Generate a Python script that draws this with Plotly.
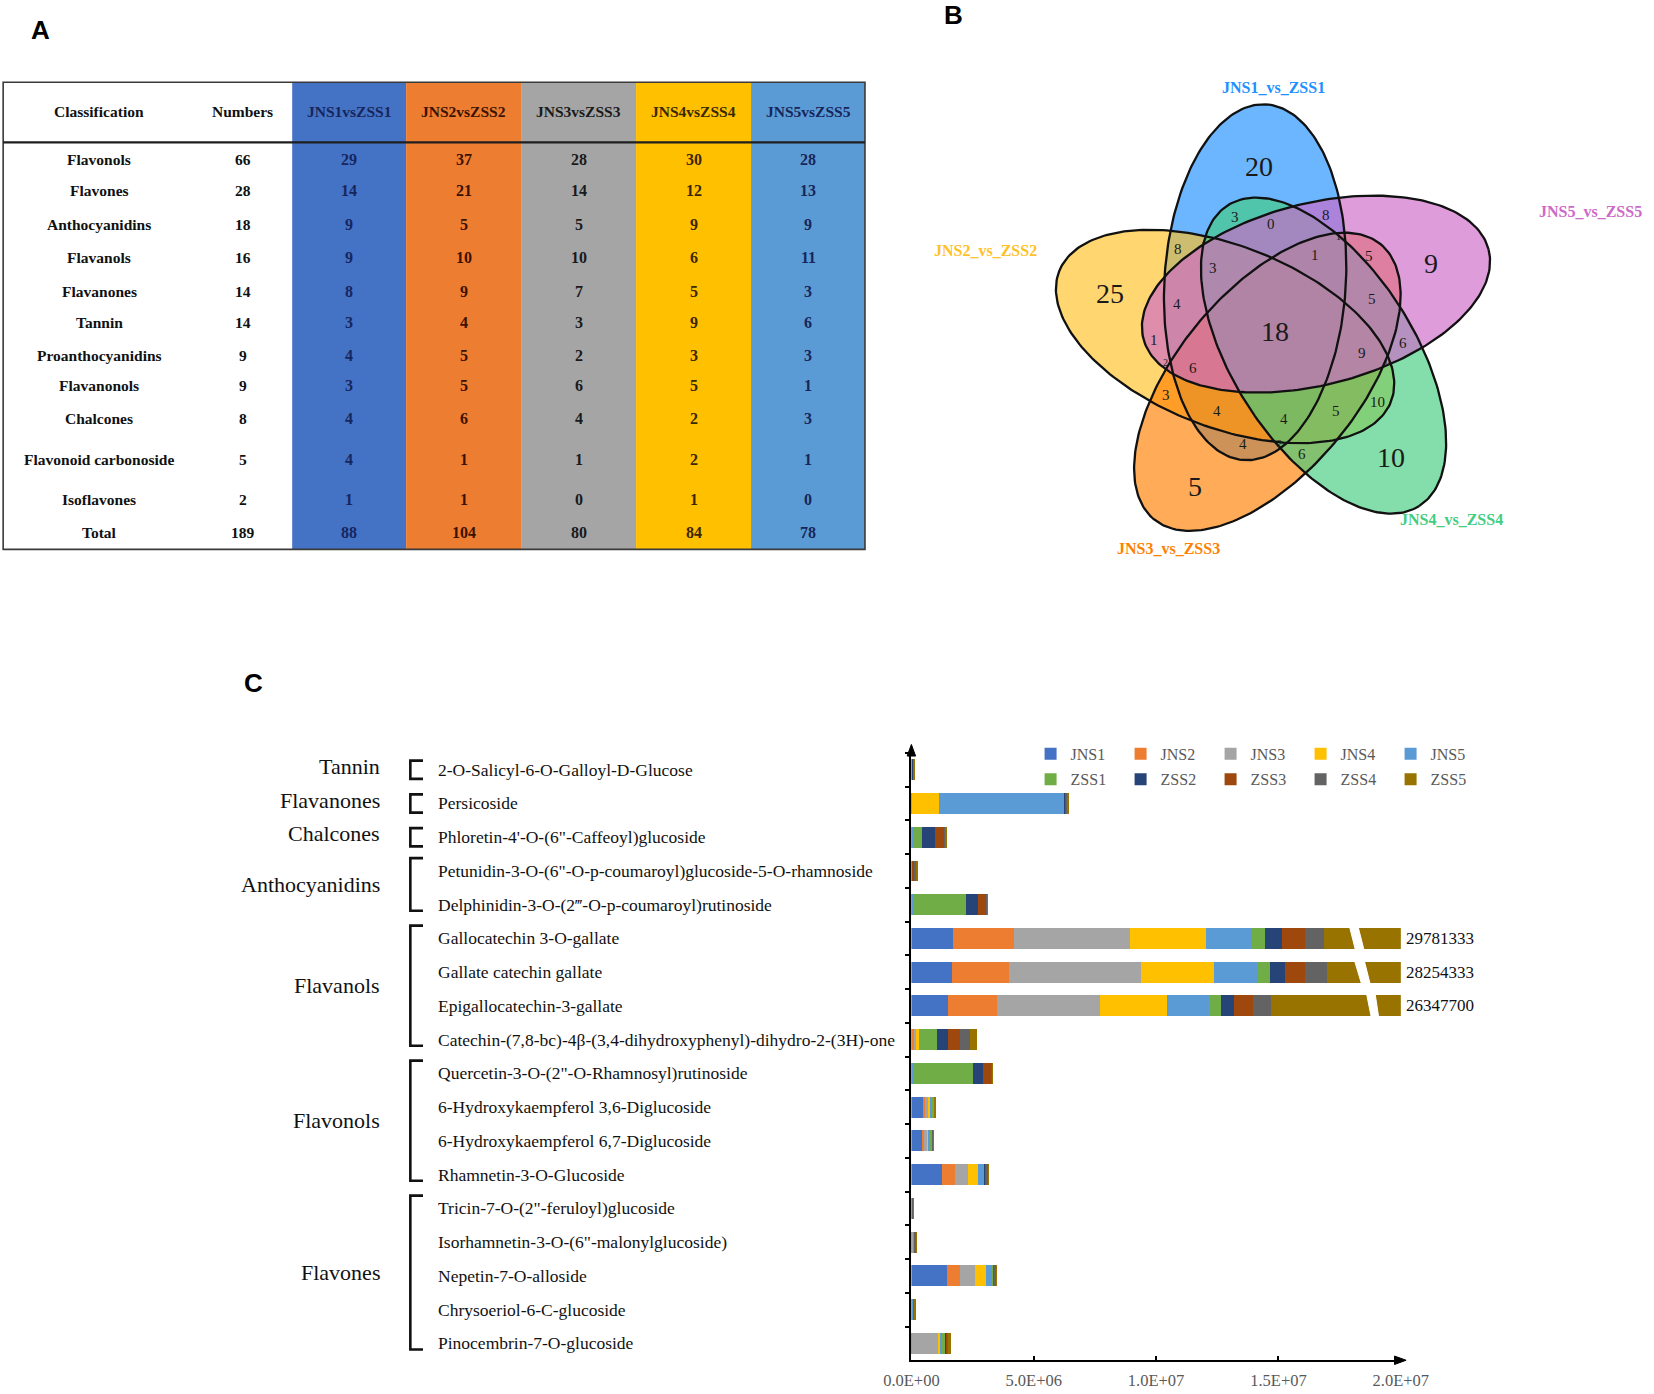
import numpy as np
import plotly.graph_objects as go

W, H = 1654, 1394
DW, DH = 1568.0, 1322.0  # design grid used for layout measurements


def px(x):
    return x / DW


def py(y):
    return 1 - y / DH


SERIF = "Liberation Serif"
SANS = "Liberation Sans"

# ---------------- Panel A : table data ----------------
table_classes = ["Flavonols", "Flavones", "Anthocyanidins", "Flavanols", "Flavanones", "Tannin",
                 "Proanthocyanidins", "Flavanonols", "Chalcones", "Flavonoid carbonoside",
                 "Isoflavones", "Total"]
table_numbers = [66, 28, 18, 16, 14, 14, 9, 9, 8, 5, 2, 189]
table_groups = ["JNS1vsZSS1", "JNS2vsZSS2", "JNS3vsZSS3", "JNS4vsZSS4", "JNS5vsZSS5"]
jns1_vs_zss1 = [29, 14, 9, 9, 8, 3, 4, 3, 4, 4, 1, 88]
jns2_vs_zss2 = [37, 21, 5, 10, 9, 4, 5, 5, 6, 1, 1, 104]
jns3_vs_zss3 = [28, 14, 5, 10, 7, 3, 2, 6, 4, 1, 0, 80]
jns4_vs_zss4 = [30, 12, 9, 6, 5, 9, 3, 5, 2, 2, 1, 84]
jns5_vs_zss5 = [28, 13, 9, 11, 3, 6, 3, 1, 3, 1, 0, 78]

# ---------------- Panel B : Venn data ----------------
venn_sets = ["JNS1_vs_ZSS1", "JNS2_vs_ZSS2", "JNS3_vs_ZSS3", "JNS4_vs_ZSS4", "JNS5_vs_ZSS5"]
venn_counts = [20, 25, 5, 10, 9, 18,
               3, 0, 8, 8, 3, 1, 5, 4, 5, 1, 6, 9, 6, 3, 10, 4, 4, 5, 4, 6,
               2, 1, 2, 0, 2]

# ---------------- Panel C : stacked bar data (x 10^6) ----------------
compounds = [
    "2-O-Salicyl-6-O-Galloyl-D-Glucose",
    "Persicoside",
    "Phloretin-4'-O-(6\"-Caffeoyl)glucoside",
    "Petunidin-3-O-(6\"-O-p-coumaroyl)glucoside-5-O-rhamnoside",
    "Delphinidin-3-O-(2\u2034-O-p-coumaroyl)rutinoside",
    "Gallocatechin 3-O-gallate",
    "Gallate catechin gallate",
    "Epigallocatechin-3-gallate",
    "Catechin-(7,8-bc)-4\u03b2-(3,4-dihydroxyphenyl)-dihydro-2-(3H)-one",
    "Quercetin-3-O-(2\"-O-Rhamnosyl)rutinoside",
    "6-Hydroxykaempferol 3,6-Diglucoside",
    "6-Hydroxykaempferol 6,7-Diglucoside",
    "Rhamnetin-3-O-Glucoside",
    "Tricin-7-O-(2\"-feruloyl)glucoside",
    "Isorhamnetin-3-O-(6\"-malonylglucoside)",
    "Nepetin-7-O-alloside",
    "Chrysoeriol-6-C-glucoside",
    "Pinocembrin-7-O-glucoside",
]
compound_class = ["Tannin", "Flavanones", "Chalcones", "Anthocyanidins", "Anthocyanidins",
                  "Flavanols", "Flavanols", "Flavanols", "Flavanols",
                  "Flavonols", "Flavonols", "Flavonols", "Flavonols",
                  "Flavones", "Flavones", "Flavones", "Flavones", "Flavones"]
series_names = ["JNS1", "JNS2", "JNS3", "JNS4", "JNS5", "ZSS1", "ZSS2", "ZSS3", "ZSS4", "ZSS5"]
JNS1 = [0.02, 0.01, 0.01, 0.01, 0.01, 1.71, 1.64, 1.50, 0.03, 0.01, 0.47, 0.43, 1.26, 0.01, 0.01, 1.46, 0.01, 0.01]
JNS2 = [0.01, 0.01, 0.01, 0.01, 0.01, 2.49, 2.35, 1.99, 0.10, 0.01, 0.10, 0.10, 0.53, 0.01, 0.01, 0.52, 0.01, 0.01]
JNS3 = [0.02, 0.02, 0.01, 0.01, 0.01, 4.73, 5.38, 4.20, 0.05, 0.01, 0.10, 0.10, 0.53, 0.01, 0.08, 0.60, 0.05, 1.12]
JNS4 = [0.01, 1.07, 0.01, 0.01, 0.01, 3.11, 2.98, 2.74, 0.15, 0.01, 0.12, 0.10, 0.40, 0.01, 0.01, 0.46, 0.01, 0.08]
JNS5 = [0.01, 5.16, 0.01, 0.01, 0.01, 1.88, 1.82, 1.75, 0.02, 0.01, 0.05, 0.04, 0.21, 0.01, 0.01, 0.26, 0.01, 0.04]
ZSS1 = [0.01, 0.02, 0.40, 0.01, 2.18, 0.54, 0.50, 0.47, 0.71, 2.46, 0.10, 0.09, 0.09, 0.01, 0.01, 0.07, 0.01, 0.16]
ZSS2 = [0.01, 0.01, 0.50, 0.01, 0.50, 0.67, 0.60, 0.53, 0.43, 0.41, 0.01, 0.01, 0.02, 0.01, 0.01, 0.01, 0.01, 0.01]
ZSS3 = [0.02, 0.01, 0.40, 0.08, 0.34, 0.94, 0.83, 0.78, 0.50, 0.37, 0.01, 0.01, 0.01, 0.01, 0.01, 0.01, 0.01, 0.01]
ZSS4 = [0.01, 0.10, 0.05, 0.06, 0.04, 0.78, 0.88, 0.74, 0.40, 0.03, 0.02, 0.02, 0.10, 0.01, 0.06, 0.10, 0.01, 0.10]
ZSS5 = [0.01, 0.02, 0.04, 0.08, 0.03, 12.931333, 11.274333, 11.6477, 0.31, 0.02, 0.01, 0.01, 0.01, 0.01, 0.01, 0.01, 0.05, 0.06]
UNIT = 1e6
broken_rows = ["Gallocatechin 3-O-gallate", "Gallate catechin gallate", "Epigallocatechin-3-gallate"]
broken_totals = [29781333, 28254333, 26347700]
x_tickvals = [0, 5e6, 1e7, 1.5e7, 2e7]
x_ticktext = ["0.0E+00", "5.0E+06", "1.0E+07", "1.5E+07", "2.0E+07"]

# ---------------- styles ----------------
bar_colors = ["#4472C4", "#ED7D31", "#A5A5A5", "#FFC000", "#5B9BD5",
              "#70AD47", "#264478", "#9E480E", "#636363", "#997300"]
table_fill = ["#4472C4", "#ED7D31", "#A5A5A5", "#FFC000", "#5B9BD5"]
table_text = ["#16265C", "#3B1300", "#1A1A1A", "#3A2800", "#16265C"]
venn_rgb = {"JNS1_vs_ZSS1": (30, 144, 255), "JNS2_vs_ZSS2": (255, 193, 37),
            "JNS3_vs_ZSS3": (255, 127, 0), "JNS4_vs_ZSS4": (67, 205, 128),
            "JNS5_vs_ZSS5": (205, 105, 201)}

fig = go.Figure()
shapes = []
ann = []

# =============== Panel A : table ===============
col_x = [(277, 385), (385, 494), (494, 603), (603, 712), (712, 820)]
T_TOP, T_HEAD, T_BOT, T_L, T_R = 78, 135, 521, 3, 820
row_y = [151, 181, 213, 244, 276, 306, 337, 366, 397, 436, 474, 505]
HEAD_Y = 106
for (x0, x1), c in zip(col_x, table_fill):
    shapes.append(dict(type="rect", xref="x2", yref="y2", x0=x0, x1=x1, y0=T_TOP, y1=T_BOT,
                       fillcolor=c, line=dict(width=0), layer="below"))
shapes.append(dict(type="rect", xref="x2", yref="y2", x0=T_L, x1=T_R, y0=T_TOP, y1=T_BOT,
                   line=dict(color="#3a3a3a", width=1.6)))
shapes.append(dict(type="line", xref="x2", yref="y2", x0=T_L, x1=T_R, y0=T_HEAD, y1=T_HEAD,
                   line=dict(color="#1e1e1e", width=2.4)))

tfont = dict(family=SERIF, size=15.5, color="#111111")
ann.append(dict(x=94, y=HEAD_Y, text="<b>Classification</b>", font=tfont))
ann.append(dict(x=230, y=HEAD_Y, text="<b>Numbers</b>", font=tfont))
for i, g in enumerate(table_groups):
    cx = (col_x[i][0] + col_x[i][1]) / 2
    ann.append(dict(x=cx, y=HEAD_Y, text=f"<b>{g}</b>",
                    font=dict(family=SERIF, size=15.5, color=table_text[i])))
cols = [jns1_vs_zss1, jns2_vs_zss2, jns3_vs_zss3, jns4_vs_zss4, jns5_vs_zss5]
for r, (cls, num) in enumerate(zip(table_classes, table_numbers)):
    ann.append(dict(x=94, y=row_y[r], text=f"<b>{cls}</b>", font=tfont))
    ann.append(dict(x=230, y=row_y[r], text=f"<b>{num}</b>", font=tfont))
    for i, col in enumerate(cols):
        cx = (col_x[i][0] + col_x[i][1]) / 2
        ann.append(dict(x=cx, y=row_y[r], text=f"<b>{col[r]}</b>",
                        font=dict(family=SERIF, size=16, color=table_text[i])))

# =============== Panel B : Venn ===============
VC = (1211.0, 313.0)
VD, VA, VB = 50.0, 169.0, 86.0
venn_k = {"JNS1_vs_ZSS1": 0, "JNS5_vs_ZSS5": 1, "JNS4_vs_ZSS4": 2, "JNS3_vs_ZSS3": 3, "JNS2_vs_ZSS2": 4}
t = np.linspace(0, 2 * np.pi, 241)


def ellipse_xy(k):
    th = np.radians(115 - 72 * k)
    ph = np.radians(86.5 - 72 * k)
    cx = VC[0] + VD * np.cos(th)
    cy = VC[1] - VD * np.sin(th)
    ux, uy = VA * np.cos(t), VB * np.sin(t)
    X = ux * np.cos(ph) - uy * np.sin(ph)
    Y = ux * np.sin(ph) + uy * np.cos(ph)
    return cx + X, cy - Y


for s in venn_sets:
    ex, ey = ellipse_xy(venn_k[s])
    r, g, b = venn_rgb[s]
    fig.add_trace(go.Scatter(x=ex, y=ey, xaxis="x2", yaxis="y2", mode="lines", fill="toself",
                             fillcolor=f"rgba({r},{g},{b},0.66)", line=dict(width=0),
                             hoverinfo="skip", showlegend=False))
for s in venn_sets:
    ex, ey = ellipse_xy(venn_k[s])
    fig.add_trace(go.Scatter(x=ex, y=ey, xaxis="x2", yaxis="y2", mode="lines",
                             line=dict(color="#111111", width=2.3),
                             hoverinfo="skip", showlegend=False))

venn_count_xy = [(1194, 158), (1052, 278), (1133, 461), (1319, 434), (1357, 250), (1209, 314),
                 (1171, 206), (1205, 212), (1257, 204), (1117, 236), (1150, 254), (1247, 242),
                 (1298, 243), (1116, 288), (1301, 284), (1094, 322), (1330, 325), (1291, 335),
                 (1131, 349), (1105, 375), (1306, 381), (1154, 390), (1217, 397), (1267, 390),
                 (1178, 421), (1234, 431),
                 (1142, 227), (1269, 224), (1105, 344), (1315, 343), (1213, 421)]
venn_count_size = [28] * 6 + [15] * 20 + [10] * 5
for v, (x, y), fs in zip(venn_counts, venn_count_xy, venn_count_size):
    ann.append(dict(x=x, y=y, text=str(v), font=dict(family=SERIF, size=fs, color="#1a1a1a")))

venn_label_xy = {"JNS1_vs_ZSS1": (1207, 83), "JNS2_vs_ZSS2": (934, 238), "JNS3_vs_ZSS3": (1108, 520),
                 "JNS4_vs_ZSS4": (1376, 493), "JNS5_vs_ZSS5": (1508, 201)}
for s in venn_sets:
    r, g, b = venn_rgb[s]
    x, y = venn_label_xy[s]
    ann.append(dict(x=x, y=y, text=f"<b>{s}</b>", font=dict(family=SERIF, size=16, color=f"rgb({r},{g},{b})")))

# panel letters
for letter, (x, y) in zip(["A", "B", "C"], [(38, 28), (904, 14), (240, 648)]):
    ann.append(dict(x=x, y=y, text=f"<b>{letter}</b>", font=dict(family=SANS, size=26, color="#000000")))

for a in ann:
    a.update(xref="x2", yref="y2", showarrow=False, xanchor=a.get("xanchor", "center"),
             yanchor="middle")

# =============== Panel C : stacked bars ===============
series = [JNS1, JNS2, JNS3, JNS4, JNS5, ZSS1, ZSS2, ZSS3, ZSS4, ZSS5]
for i, (name, vals) in enumerate(zip(series_names, series)):
    fig.add_trace(go.Bar(
        y=compounds, x=[v * UNIT for v in vals], name=name, orientation="h",
        marker=dict(color=bar_colors[i], line=dict(width=0)),
        legend="legend" if name.startswith("JNS") else "legend2",
        xaxis="x", yaxis="y", hovertemplate=name + ": %{x:.3s}<extra></extra>"))

# compound labels
for c in compounds:
    ann.append(dict(xref="paper", yref="y", x=px(413), y=c, text=c, showarrow=False,
                    xanchor="left", yanchor="middle", font=dict(family=SERIF, size=17.5, color="#111111")))

# class labels + brackets
groups = []
for i, cl in enumerate(compound_class):
    if groups and groups[-1][0] == cl:
        groups[-1][1].append(i)
    else:
        groups.append((cl, [i]))
for cl, idx in groups:
    mid = (idx[0] + idx[-1]) / 2 - 0.1
    ann.append(dict(xref="paper", yref="y", x=px(362), y=mid, text=cl, showarrow=False,
                    xanchor="right", yanchor="middle", font=dict(family=SERIF, size=22, color="#111111")))
    if len(idx) == 1:
        y0, y1 = idx[0] - 0.27, idx[0] + 0.27
    else:
        y0, y1 = idx[0] - 0.38, idx[-1] + 0.18
    xa, xb = px(389), px(401)
    shapes.append(dict(type="path", xref="paper", yref="y",
                       path=f"M {xb},{y0} L {xa},{y0} L {xa},{y1} L {xb},{y1}",
                       line=dict(color="#111111", width=2.6)))

# axis break marks (white slanted gaps) and totals
break_geom = [(17.9, 18.25, 18.15, 18.5), (18.1, 18.5, 18.4, 18.75), (18.6, 18.95, 18.8, 19.1)]
for name, tot, (tl, tr, bl, br) in zip(broken_rows, broken_totals, break_geom):
    k = compounds.index(name)
    ya, yb = k - 0.36, k + 0.36
    shapes.append(dict(type="path", xref="x", yref="y", layer="above",
                       path=f"M {tl*UNIT},{ya} L {tr*UNIT},{ya} L {br*UNIT},{yb} L {bl*UNIT},{yb} Z",
                       fillcolor="white", line=dict(color="white", width=1)))
    ann.append(dict(xref="x", yref="y", x=2e7, y=name, text=str(tot), showarrow=False,
                    xanchor="left", yanchor="middle", xshift=3,
                    font=dict(family=SERIF, size=17, color="#111111")))

# axis arrowheads
shapes.append(dict(type="path", xref="x2", yref="y2", path="M 864,706 L 860,717 L 868,717 Z",
                   fillcolor="#000", line=dict(color="#000", width=1)))
shapes.append(dict(type="path", xref="x2", yref="y2", path="M 1333,1290 L 1322,1286 L 1322,1294 Z",
                   fillcolor="#000", line=dict(color="#000", width=1)))

n = len(compounds)
legend_common = dict(orientation="h", xanchor="left", yanchor="middle", entrywidth=45,
                     entrywidthmode="pixels", bgcolor="rgba(0,0,0,0)", itemwidth=30,
                     traceorder="normal",
                     font=dict(family=SERIF, size=16, color="#595959"), tracegroupgap=0)
fig.update_layout(
    width=W, height=H, margin=dict(l=0, r=0, t=0, b=0, autoexpand=False),
    paper_bgcolor="white", plot_bgcolor="rgba(0,0,0,0)",
    barmode="stack", bargap=0.38,
    font=dict(family=SERIF, color="#111111"),
    xaxis=dict(domain=[px(864), px(1328)], anchor="y", range=[0, 2e7], tickvals=x_tickvals,
               ticktext=x_ticktext, showline=True, linecolor="#000", linewidth=1.6,
               ticks="inside", ticklen=4, tickwidth=2, tickcolor="#000", showgrid=False, zeroline=False,
               ticklabelstandoff=4,
               tickfont=dict(family=SERIF, size=16.5, color="#595959")),
    yaxis=dict(domain=[py(1290), py(714)], anchor="x", type="category", categoryorder="array",
               categoryarray=compounds, range=[n - 0.5, -0.5], showline=True, linecolor="#000",
               linewidth=1.6, ticks="outside", tickson="boundaries", ticklen=5, tickwidth=2,
               tickcolor="#000", showticklabels=False, showgrid=False, zeroline=False),
    xaxis2=dict(domain=[0, 1], range=[0, DW], anchor="y2", visible=False, fixedrange=True),
    yaxis2=dict(domain=[0, 1], range=[DH, 0], anchor="x2", visible=False, fixedrange=True),
    legend=dict(x=px(977), y=py(715), **legend_common),
    legend2=dict(x=px(977), y=py(739), **legend_common),
    shapes=shapes, annotations=ann,
)

fig.write_html("out.html", config={"displayModeBar": False},
               post_script="document.body.style.margin='0px';")
